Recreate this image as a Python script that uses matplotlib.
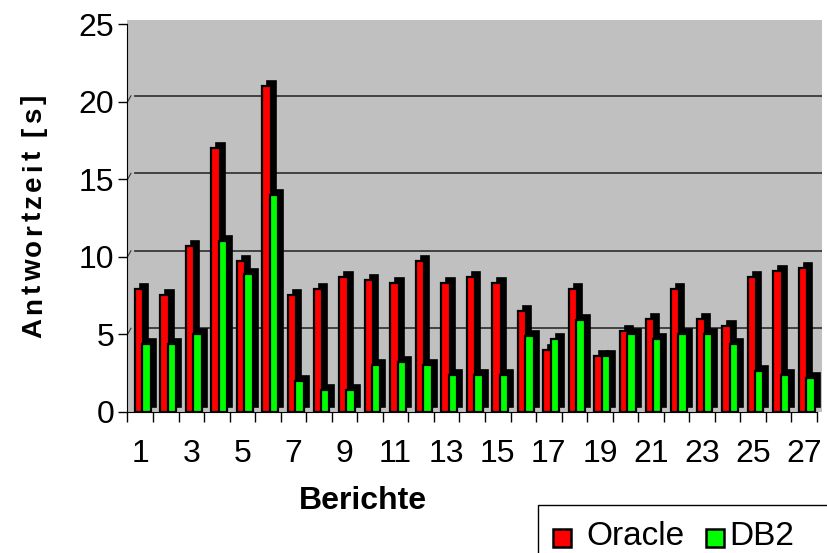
import numpy as np
import matplotlib
matplotlib.use("Agg")
import matplotlib.pyplot as plt
from matplotlib.patches import Rectangle
from matplotlib.transforms import ScaledTranslation
from matplotlib.font_manager import FontProperties

plt.rcParams['font.family'] = ['Liberation Sans', 'DejaVu Sans']

# data
berichte = np.arange(1, 28)
oracle = [7.9, 7.5, 10.7, 17.0, 9.7, 21.0, 7.5, 7.9, 8.7, 8.5,
          8.3, 9.7, 8.3, 8.7, 8.3, 6.5, 4.0, 7.9, 3.6, 5.2,
          6.0, 7.9, 6.0, 5.5, 8.7, 9.1, 9.3]
db2 = [4.4, 4.4, 5.0, 11.0, 8.9, 14.0, 2.0, 1.4, 1.4, 3.0,
       3.2, 3.0, 2.4, 2.4, 2.4, 4.9, 4.7, 5.9, 3.6, 5.0,
       4.7, 5.0, 5.0, 4.4, 2.6, 2.4, 2.2]
series = ['Oracle', 'DB2']
colors = ['#FF0000', '#00FF00']
yticks = [0, 5, 10, 15, 20, 25]
xlabels = [str(b) if b % 2 else '' for b in berichte]

W, H = 827, 553
fig = plt.figure(figsize=(W / 100, H / 100), dpi=100)

# axes in pixel terms: x 127.5..822, y 20..411.7
left, right, top, bottom = 127.5, 822, 20, 411.7
ax = fig.add_axes([left / W, 1 - bottom / H, (right - left) / W, (bottom - top) / H])
ax.set_facecolor('#C0C0C0')

ppu_x = (817 - left) / 27.0
ppu_y = (bottom - 24.3) / 25.0
ax.set_xlim(0.5, 0.5 + (right - left) / ppu_x)
ax.set_ylim(0, (bottom - top) / ppu_y)

# 3D depth offset (pixels)
dx, dy = 5 / 100, 5 / 100
depth = ax.transData + ScaledTranslation(dx, dy, fig.dpi_scale_trans)

# wall gridlines, shifted back like the 3D wall
wall = ax.get_yaxis_transform() + ScaledTranslation(0, 6 / 100, fig.dpi_scale_trans)
for v in yticks[1:-1]:
    ax.plot([0.011, 1.0], [v, v], color='#383838', lw=1.3, transform=wall, zorder=1)
    ax.plot([0.0, 0.005], [v - 0.4, v], color='#383838', lw=0.8, transform=wall, zorder=1)

w = 0.33
offs = [-0.05, 0.24]
for i, b in enumerate(berichte):
    for k, vals in enumerate([oracle, db2]):
        z = 2 + 2 * k
        ax.bar(b + offs[k], vals[i], width=w, color='black', edgecolor='black',
               lw=1.2, transform=depth, zorder=z)
        ax.bar(b + offs[k], vals[i], width=w, color=colors[k], edgecolor='black',
               lw=1.6, zorder=z + 1)

ax.spines['top'].set_visible(False)
ax.spines['right'].set_visible(False)
ax.spines['left'].set_bounds(0, 25)
ax.spines['bottom'].set_bounds(0.5, 27.5)
ax.spines['left'].set_zorder(10)
ax.spines['bottom'].set_zorder(10)

ax.set_yticks(yticks)
ax.tick_params(axis='y', direction='out', length=6.5, width=1, labelsize=23, pad=3)
ax.set_xticks(berichte)
ax.set_xticklabels(xlabels)
ax.set_xticks(np.arange(0.5, 28, 1), minor=True)
ax.tick_params(axis='x', which='major', length=0, labelsize=23, pad=20)
ax.tick_params(axis='x', which='minor', direction='out', length=7, width=1)

# x label (not centered in the reference)
fig.text(363 / W, 1 - 501 / H, 'Berichte', fontsize=23, fontweight='bold',
         ha='center', va='center')

# y label with the wide letter spacing of the original
ylab = 'Antwortzeit [s]'
fig.canvas.draw()
renderer = fig.canvas.get_renderer()
fp = FontProperties(family=['Liberation Sans', 'DejaVu Sans'], weight='bold', size=20)
ref_w = renderer.get_text_width_height_descent('x', fp, ismath=False)[0]
pref = [renderer.get_text_width_height_descent(ylab[:j] + 'x', fp, ismath=False)[0] - ref_w
        for j in range(len(ylab))]
last_w = renderer.get_text_width_height_descent(ylab[-1], fp, ismath=False)[0]
natural = pref[-1] + last_w
total = 243.0
extra = (total - natural) / (len(ylab) - 1)
y0 = 553 - 338
for j, ch in enumerate(ylab):
    if ch == ' ':
        continue
    fig.text(41 / W, (y0 + pref[j] + j * extra) / H, ch, fontproperties=fp,
             rotation=90, rotation_mode='anchor', ha='left', va='baseline')

# legend box (cut by the lower figure edge, as in the reference)
fig.patches.append(Rectangle((538 / W, -0.05), 0.5, 0.05 + 48 / H, transform=fig.transFigure,
                             facecolor='white', edgecolor='black', lw=1, figure=fig))
leg_sq = [553, 706]
leg_tx = [586, 729]
for k in range(2):
    fig.patches.append(Rectangle((leg_sq[k] / W, 1 - 547 / H), 18 / W, 18 / H,
                                 transform=fig.transFigure, facecolor=colors[k],
                                 edgecolor='black', lw=1.8, figure=fig))
    fig.text(leg_tx[k] / W, 1 / H, series[k], fontsize=24, ha='left', va='bottom')

fig.savefig('out.png', dpi=100)
